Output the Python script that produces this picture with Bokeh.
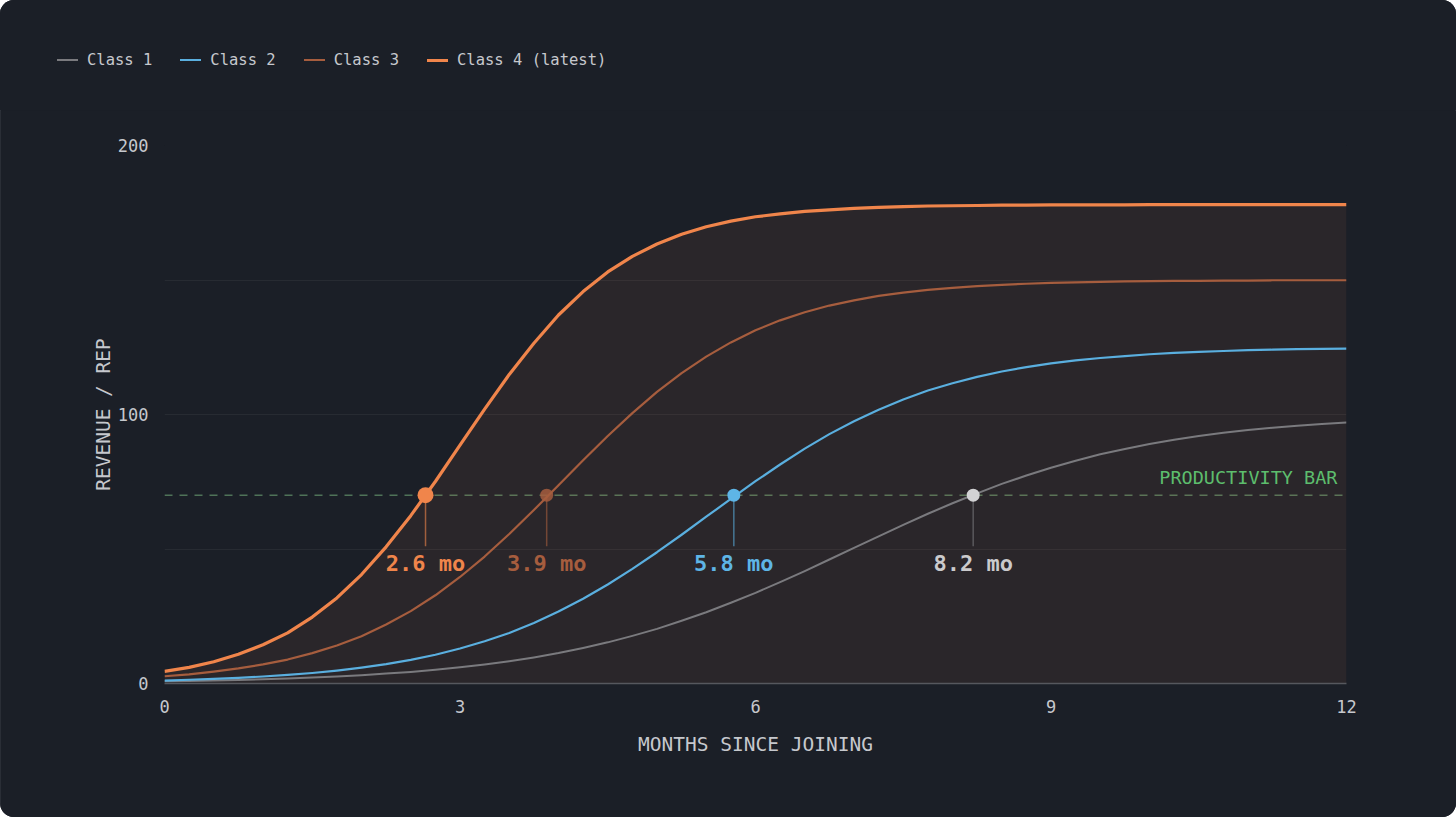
from bokeh.plotting import figure
from bokeh.layouts import column
from bokeh.models import FixedTicker, Range1d, Span, Div
from bokeh.embed import file_html
from bokeh.resources import INLINE
from bokeh.core.properties import value

# ---- data ----
months = [0, 0.25, 0.5, 0.75, 1, 1.25, 1.5, 1.75, 2, 2.25, 2.5, 2.75, 3, 3.25, 3.5, 3.75,
          4, 4.25, 4.5, 4.75, 5, 5.25, 5.5, 5.75, 6, 6.25, 6.5, 6.75, 7, 7.25, 7.5, 7.75,
          8, 8.25, 8.5, 8.75, 9, 9.25, 9.5, 9.75, 10, 10.25, 10.5, 10.75, 11, 11.25, 11.5, 11.75, 12]
class_1 = [0.8, 0.9, 1.1, 1.3, 1.6, 1.9, 2.2, 2.6, 3.1, 3.7, 4.3, 5.1, 6.0, 7.1, 8.3, 9.7,
           11.3, 13.2, 15.3, 17.7, 20.3, 23.3, 26.5, 30.0, 33.7, 37.7, 41.8, 46.1, 50.4, 54.7, 59.0, 63.1,
           67.0, 70.7, 74.2, 77.3, 80.2, 82.8, 85.2, 87.2, 89.0, 90.6, 92.0, 93.2, 94.2, 95.1, 95.8, 96.5, 97.0]
class_2 = [1.1, 1.4, 1.7, 2.1, 2.6, 3.2, 3.9, 4.8, 5.9, 7.2, 8.8, 10.7, 13.0, 15.7, 18.8, 22.5,
           26.8, 31.5, 36.8, 42.6, 48.8, 55.3, 62.0, 68.6, 75.2, 81.4, 87.3, 92.7, 97.5, 101.8, 105.6, 108.9,
           111.6, 114.0, 116.0, 117.6, 119.0, 120.1, 121.0, 121.7, 122.4, 122.9, 123.3, 123.6, 123.9, 124.1, 124.3, 124.4, 124.5]
class_3 = [2.7, 3.4, 4.4, 5.6, 7.1, 8.9, 11.3, 14.1, 17.6, 21.9, 26.9, 32.8, 39.6, 47.2, 55.6, 64.5,
           73.7, 83.0, 92.0, 100.5, 108.4, 115.4, 121.5, 126.8, 131.3, 135.0, 138.0, 140.5, 142.4, 144.1, 145.3, 146.3,
           147.1, 147.7, 148.2, 148.6, 148.9, 149.1, 149.3, 149.5, 149.6, 149.7, 149.7, 149.8, 149.8, 149.9, 149.9, 149.9, 149.9]
class_4 = [4.5, 6.0, 8.1, 10.9, 14.4, 18.8, 24.7, 31.8, 40.5, 50.8, 62.4, 75.1, 88.6, 102.0, 114.9, 126.5,
           137.0, 145.7, 153.0, 158.8, 163.4, 167.0, 169.8, 171.9, 173.5, 174.6, 175.5, 176.1, 176.6, 177.0, 177.3, 177.5,
           177.6, 177.7, 177.8, 177.8, 177.9, 177.9, 177.9, 177.9, 178.0, 178.0, 178.0, 178.0, 178.0, 178.0, 178.0, 178.0, 178.0]
series_names = ["Class 1", "Class 2", "Class 3", "Class 4 (latest)"]
bar_level = 70
bar_label = "PRODUCTIVITY BAR"
cross_months = [8.21, 5.78, 3.88, 2.65]
cross_labels = ["8.2 mo", "5.8 mo", "3.9 mo", "2.6 mo"]
x_ticks = [0, 3, 6, 9, 12]
y_ticks = [0, 100, 200]
y_minor = [50, 150]

# ---- styles ----
BG = "#1b1f27"
FONT = "DejaVu Sans Mono"
TXT = "#c6c8cd"
line_colors = ["#7a7a7e", "#5aafdf", "#a65d3e", "#f0854b"]
line_widths = [2, 2.2, 2.2, 3.2]
legend_swatch_h = [2, 2, 2, 3]
marker_colors = ["#d2d2d4", "#5eb5e6", "#a65d3e", "#f0854b"]
marker_sizes = [13, 13, 13, 16]
marker_alpha = [1.0, 1.0, 0.85, 1.0]
label_colors = ["#cacacc", "#5eb5e6", "#a65d3e", "#f0854b"]

W = 1456
LEG_H = 110
MAIN_H = 707

# ---- legend strip (HTML, so it can sit left of the plot frame) ----
items_html = ""
for name, col, h in zip(series_names, line_colors, legend_swatch_h):
    items_html += (
        '<span style="display:inline-flex;align-items:center;margin-right:28px;">'
        f'<span style="display:inline-block;width:21px;height:{h}px;background:{col};'
        'margin-right:9px;"></span>'
        f'<span>{name}</span></span>'
    )
legend_html = (
    f'<div style="position:absolute;left:57px;top:50px;height:20px;display:flex;'
    f'align-items:center;white-space:nowrap;font-family:\'{FONT}\';font-size:15.5px;'
    f'color:{TXT};line-height:20px;">{items_html}</div>'
)
leg = Div(text=legend_html, width=W, height=LEG_H, margin=0,
          styles={"background-color": BG, "position": "relative"})

# ---- main chart ----
p = figure(width=W, height=MAIN_H, output_backend="svg", toolbar_location=None,
           x_range=Range1d(0, 12), y_range=Range1d(0, 200),
           min_border_left=164, min_border_right=110,
           min_border_top=145 - LEG_H, min_border_bottom=134,
           background_fill_color=BG, border_fill_color=BG)
p.outline_line_color = BG
p.outline_line_alpha = 1.0
p.outline_line_width = 1

# grid
p.xgrid.visible = False
p.ygrid.ticker = FixedTicker(ticks=y_ticks, minor_ticks=y_minor)
p.ygrid.grid_line_color = "#ffffff"
p.ygrid.grid_line_alpha = 0.055
p.ygrid.minor_grid_line_color = "#ffffff"
p.ygrid.minor_grid_line_alpha = 0.055

# axes
p.xaxis.ticker = FixedTicker(ticks=x_ticks)
p.yaxis.ticker = FixedTicker(ticks=y_ticks, minor_ticks=y_minor)
for ax in (p.xaxis[0], p.yaxis[0]):
    ax.major_tick_line_color = None
    ax.minor_tick_line_color = None
    ax.major_tick_out = 0
    ax.major_label_text_font = FONT
    ax.major_label_text_font_size = "17px"
    ax.major_label_text_color = TXT
    ax.axis_label_text_font = FONT
    ax.axis_label_text_font_size = "19.5px"
    ax.axis_label_text_font_style = "normal"
    ax.axis_label_text_color = TXT
p.xaxis.axis_label = "MONTHS SINCE JOINING"
p.yaxis.axis_label = "REVENUE / REP"
p.xaxis.axis_line_color = "#56585e"
p.xaxis.axis_line_width = 1.5
p.yaxis.axis_line_color = None
p.xaxis.major_label_standoff = 16
p.yaxis.major_label_standoff = 12
p.xaxis.axis_label_standoff = 17
p.yaxis.axis_label_standoff = 0

# area under the latest class
p.varea(x=months, y1=0, y2=class_4, fill_color="#f0854b", fill_alpha=0.075)

# productivity bar
p.add_layout(Span(location=bar_level, dimension="width", line_color="#4f7358",
                  line_width=1.4, line_dash="8 7", level="underlay"))
p.text(x=[12], y=[bar_level], text=[bar_label], x_offset=-9, y_offset=-18,
       text_align="right", text_baseline="alphabetic",
       text_font=value(FONT), text_font_size="18.5px", text_color="#5dbd6d")

# curves
series = [class_1, class_2, class_3, class_4]
for vals, col, lw in zip(series, line_colors, line_widths):
    p.line(months, vals, line_color=col, line_width=lw, line_join="round")

# stems, markers, labels
stem_len = 19
for i, m in enumerate(cross_months):
    p.segment(x0=[m], y0=[bar_level], x1=[m], y1=[bar_level - stem_len],
              line_color=line_colors[i], line_alpha=0.6, line_width=1.5)
for i, m in enumerate(cross_months):
    p.scatter(x=[m], y=[bar_level], size=marker_sizes[i], fill_color=marker_colors[i],
              fill_alpha=marker_alpha[i], line_color=None)
p.text(x=cross_months, y=[bar_level] * 4, text=cross_labels, y_offset=68,
       text_align="center", text_baseline="middle", text_color=label_colors,
       text_font=value(FONT), text_font_style="bold", text_font_size="22px")

page = column(leg, p, spacing=0,
              styles={"border-radius": "14px", "overflow": "hidden",
                      "background-color": BG,
                      "outline": "1px solid #30343c", "outline-offset": "-1px"})

open("out.html", "w").write(file_html(page, INLINE))
